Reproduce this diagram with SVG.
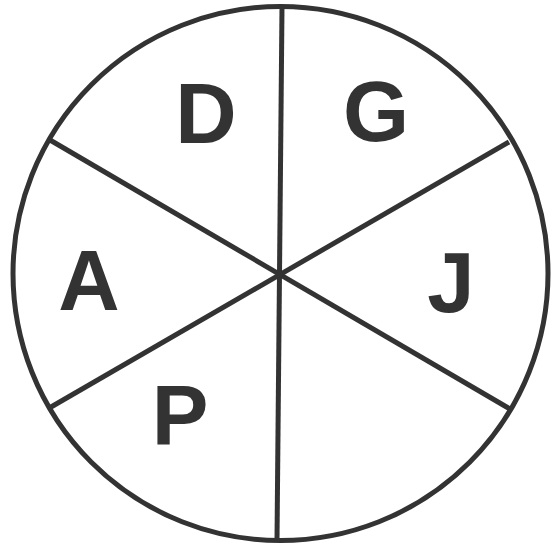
<svg xmlns="http://www.w3.org/2000/svg" width="552" height="546" viewBox="0 0 552 546">
<style>
.ln{stroke:#333;stroke-width:5;fill:none;stroke-linecap:butt}
.lb{font-family:"Liberation Sans",Arial,sans-serif;font-weight:bold;font-size:85px;fill:#333;text-anchor:middle}
</style>
<rect width="552" height="546" fill="#fff"/>
<g id="connectors">
<line class="ln" x1="282" y1="7" x2="277" y2="540"/>
<line class="ln" x1="50" y1="140" x2="510" y2="409"/>
<line class="ln" x1="51" y1="407" x2="509" y2="142"/>
</g>
<g id="circle"><ellipse class="ln" cx="280.5" cy="273.5" rx="267.5" ry="267"/></g>
<g id="node-D"><text class="lb" x="206" y="143">D</text></g>
<g id="node-G"><text class="lb" x="376" y="141">G</text></g>
<g id="node-A"><text class="lb" x="89" y="310">A</text></g>
<g id="node-J"><text class="lb" x="451" y="312">J</text></g>
<g id="node-P"><text class="lb" x="180" y="445">P</text></g>
</svg>
